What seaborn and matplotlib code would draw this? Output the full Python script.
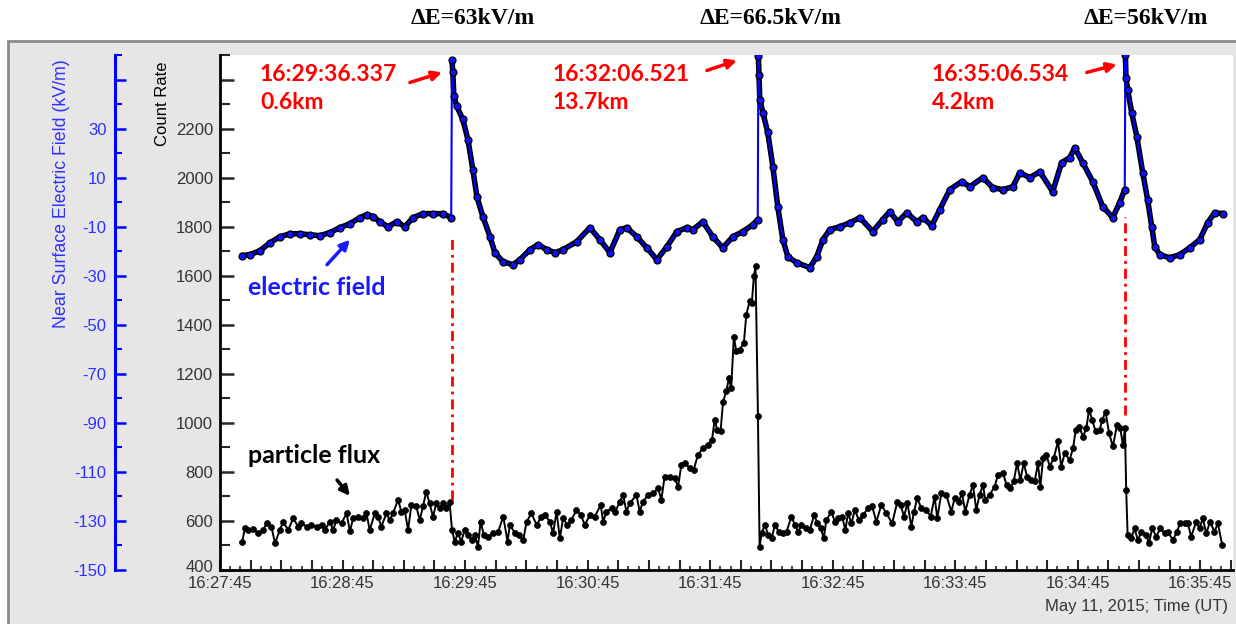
import numpy as np
import pandas as pd
import matplotlib
matplotlib.use("Agg")
import matplotlib.pyplot as plt
import matplotlib.transforms as mtransforms
import seaborn as sns
from matplotlib.patches import Rectangle

# ---------------- data (time = seconds after 16:27:45 UT) ----------------
x_tick_seconds = [0, 60, 120, 180, 240, 300, 360, 420, 480]
x_tick_labels = ["16:27:45", "16:28:45", "16:29:45", "16:30:45", "16:31:45",
                 "16:32:45", "16:33:45", "16:34:45", "16:35:45"]

count_ticks = [400, 600, 800, 1000, 1200, 1400, 1600, 1800, 2000, 2200, 2400]
count_tick_labels = ["400", "600", "800", "1000", "1200", "1400", "1600",
                     "1800", "2000", "2200", ""]
field_ticks = [-150, -130, -110, -90, -70, -50, -30, -10, 10, 30, 50]
field_tick_labels = ["-150", "-130", "-110", "-90", "-70", "-50", "-30",
                     "-10", "10", "30", ""]

# near surface electric field (kV/m)
ef_t = [10.6, 14.7, 19.6, 24.5, 29.4, 34.3, 39.2, 44.1, 48.9, 53.8, 58.7, 63.6,
        68.5, 72.0, 74.9, 78.3, 82.2, 86.6, 90.6, 94.5, 99.4, 104.3, 109.2, 113.2,
        113.6, 114.0, 114.5, 116.0, 118.9, 121.4, 123.8, 125.8, 128.7, 132.2, 134.6,
        138.5, 143.4, 146.8, 151.7, 155.7, 160.1, 164.0, 167.9, 174.7, 181.1, 186.0,
        190.9, 195.8, 199.2, 204.1, 209.0, 213.9, 218.8, 223.7, 228.6, 231.5, 236.4,
        241.3, 246.2, 251.1, 256.0, 260.9, 263.3,
        263.6, 263.9, 264.3, 265.8, 268.2, 270.7, 273.1, 275.6, 278.0, 282.4, 288.8,
        292.2, 295.2, 298.6, 303.5, 308.4, 313.3, 319.6, 324.5, 327.9, 331.9, 336.3,
        341.2, 344.1, 348.5, 352.4, 357.3, 363.2, 367.1, 373.5, 378.4, 383.3, 388.2,
        391.6, 396.5, 401.4, 407.7, 412.1, 416.1, 418.5, 422.4, 427.3, 432.2, 437.1,
        440.5, 443.0,
        443.3, 443.6, 444.4, 446.4, 448.9, 451.8, 454.2, 456.2, 457.7, 460.1, 465.0,
        469.9, 474.8, 479.7, 483.6, 487.0, 490.9]
ef_kv = [-21.8, -21.4, -19.8, -16.5, -14.1, -12.9, -12.9, -13.3, -13.7, -12.4, -10.4, -8.8,
         -6.3, -5.1, -5.9, -8.0, -10.0, -8.0, -10.0, -6.3, -4.7, -4.7, -4.7, -6.3,
         57.8, 52.9, 43.1, 39.0, 33.7, 25.5, 13.3, 2.2, -5.9, -14.1, -20.6,
         -24.3, -25.5, -23.5, -19.4, -17.3, -19.4, -20.6, -19.4, -16.1, -10.4, -15.3,
         -20.6, -11.2, -10.4, -14.1, -18.6, -23.5, -18.2, -12.0, -10.4, -11.2, -8.0,
         -14.1, -18.6, -14.1, -12.0, -9.2, -7.1,
         59.4, 52.0, 41.8, 36.5, 28.4, 14.5, -1.8, -15.3, -22.2, -24.7, -26.7,
         -22.2, -15.3, -11.2, -10.0, -8.4, -6.3, -12.0, -7.1, -3.9, -8.0, -4.3,
         -8.0, -6.3, -9.6, -3.1, 5.1, 8.4, 6.3, 10.0, 5.9, 5.1, 6.3,
         12.0, 10.0, 12.4, 4.3, 16.1, 18.2, 22.2, 16.1, 8.4, -1.8, -6.3,
         -0.2, 5.1,
         60.0, 50.8, 45.9, 36.5, 26.7, 12.0, 1.0, -10.0, -18.2, -21.4, -22.7,
         -21.4, -18.6, -15.3, -8.4, -4.3, -4.7]

# particle flux (count rate)
flux_t = [10.9, 12.2, 13.8, 16.3, 18.7, 21.2, 22.8, 25.2, 26.9, 29.3, 30.9, 33.4, 35.8,
          38.3, 39.9, 42.4, 44.8, 47.3, 49.7, 51.3, 53.8, 55.4, 57.0, 59.5, 62.0, 63.6,
          65.2, 67.6, 70.1, 71.7, 73.3, 75.8, 77.4, 79.0, 81.5, 83.1, 84.7, 87.2, 88.8,
          90.4, 92.1, 93.7, 96.1, 97.8, 99.4, 101.0, 102.6, 104.3, 105.9, 107.5, 109.1,
          110.8, 112.4, 113.6, 114.9, 116.5, 118.1, 119.8, 121.4, 123.4, 124.7, 126.3,
          127.6, 129.2, 131.2, 133.6,
          136.2, 138.7, 140.8, 141.9, 144.4, 146.3, 148.5, 150.1, 152.5, 155.0, 157.4,
          159.1, 161.5, 163.1, 164.8, 166.4, 168.0, 170.1, 172.1, 174.5, 176.7, 178.6,
          181.1, 183.5, 186.4, 187.6, 189.2, 191.7, 193.6, 195.7, 197.4, 199.0, 200.6,
          203.9, 205.5, 207.1, 209.6, 212.0, 214.5, 216.1, 217.7, 220.2, 222.6, 224.3,
          225.9, 227.8, 230.0, 231.9, 234.0, 236.5, 238.9, 240.9, 242.2, 243.5, 245.1,
          246.3, 247.9, 249.2, 250.3, 251.6, 252.8, 254.4, 256.5, 257.7, 259.3, 260.4,
          261.4, 262.2, 263.4, 264.2,
          265.2, 266.8, 268.4, 270.1, 271.7, 273.6, 275.8, 277.4, 279.8, 281.5, 283.1,
          284.7, 286.7, 288.8, 290.9, 292.5, 294.2, 295.6, 296.9, 299.4, 301.0, 302.7,
          304.6, 306.2, 307.5, 309.2, 310.8, 312.8, 314.9, 317.3, 319.3, 321.4, 323.8,
          326.3, 329.1, 331.7, 333.3, 334.9, 336.6, 338.5, 339.8, 341.4, 343.4, 345.8,
          348.0, 349.9, 351.2, 353.2, 355.6, 358.1, 359.7, 361.7, 363.3, 364.9, 367.0,
          368.7, 370.3, 371.9, 373.6, 374.7, 376.8, 379.3, 380.9,
          383.4, 385.1, 387.0, 388.6, 390.3, 391.9, 393.5, 395.2, 397.3, 398.9, 400.5,
          401.7, 403.0, 404.6, 406.3, 408.2, 410.3, 411.9, 413.6, 416.0, 417.7, 419.0,
          420.6, 422.6, 424.2, 425.5, 427.1, 428.7, 430.7, 432.0, 433.6, 435.3, 437.2,
          439.2, 440.8, 442.1, 443.1, 443.7, 444.4, 446.2, 447.8, 449.4, 451.1, 453.5,
          454.8, 456.5, 458.4, 460.4, 462.5, 464.1, 466.6, 468.5, 470.1, 472.3, 473.9,
          475.5, 478.0, 479.6, 481.2, 482.9, 484.8, 486.9, 488.6, 490.7]
flux_counts = [516, 570, 563, 566, 550, 563, 591, 577, 509, 563, 597, 563, 611,
               577, 591, 577, 584, 577, 584, 563, 597, 563, 604, 591, 631, 557,
               611, 618, 611, 631, 563, 631, 618, 577, 631, 604, 631, 686, 638,
               645, 563, 665, 659, 604, 659, 720, 672, 617, 672, 652, 672,
               652, 679, 563, 516, 550, 516, 563, 543, 522, 543, 495,
               597, 543, 536, 550,
               556, 618, 516, 584, 550, 543, 522, 597, 631, 584, 618,
               624, 597, 550, 638, 529, 611, 584, 604, 645, 624, 584,
               624, 618, 665, 597, 638, 652, 638, 679, 706, 638, 672,
               706, 638, 679, 706, 713, 733, 686, 781, 781, 774, 740,
               829, 835, 815, 808, 869, 897, 910, 931, 1012, 971, 965,
               1087, 1128, 1182, 1142, 1352, 1291, 1298, 1325, 1441, 1495, 1489,
               1597, 1638, 1026, 495,
               550, 584, 543, 529, 584, 556, 550, 556, 618, 584, 556,
               584, 570, 563, 624, 591, 570, 529, 604, 638, 597, 611,
               618, 563, 631, 591, 645, 604, 624, 652, 659, 597, 665,
               631, 591, 679, 665, 618, 672, 577, 638, 693, 652, 645,
               618, 699, 611, 713, 706, 638, 693, 679, 713, 638, 706,
               747, 645, 706, 747, 686, 706, 740, 788,
               795, 747, 733, 761, 835, 767, 835, 781, 767, 761, 835,
               740, 856, 870, 822, 856, 924, 822, 876, 849, 897, 972,
               985, 944, 978, 1053, 1012, 965, 972, 1012, 1046, 958, 904,
               992, 978, 910, 978, 727, 543, 529, 570, 522, 556, 543,
               509, 570, 536, 570, 550, 556, 522, 556, 590, 590, 590,
               536, 597, 570, 611, 550, 597, 556, 590, 502]

# lightning events marked with dash-dot lines (time, top / bottom in count units)
event_t = [113.6, 443.3]
event_top = [1759, 1841]
event_bottom = [686, 1033]

delta_labels = ["ΔE=63kV/m", "ΔE=66.5kV/m", "ΔE=56kV/m"]
lightning_times = ["16:29:36.337", "16:32:06.521", "16:35:06.534"]
lightning_dist = ["0.6km", "13.7km", "4.2km"]

# ---------------- styling ----------------
sns.set_theme(style="white")
plt.rcParams['font.family'] = ['Liberation Sans', 'DejaVu Sans']

W, H = 1236, 624
fig = plt.figure(figsize=(W / 100, H / 100), dpi=100)
fig.patch.set_facecolor('white')
fig.patches.append(Rectangle((8 / W, -0.01), 1.0, 1 - 41 / H + 0.01,
                             transform=fig.transFigure, facecolor='#e6e6e6',
                             edgecolor='#8a8a8a', lw=2, zorder=-5))

L, R, B, T = 220, 1233, 570, 55
ax = fig.add_axes([L / W, 1 - B / H, (R - L) / W, (B - T) / H])
ax.set_facecolor('white')

# particle flux
sns.lineplot(x=flux_t, y=flux_counts, ax=ax, color='black', lw=1.4,
             marker='o', markersize=4.3, markerfacecolor='black',
             markeredgecolor='black', markeredgewidth=0.5,
             estimator=None, sort=False)

ax.set_xlim(0, 496)
ax.set_ylim(400, 2500)

# dash-dot event lines
for t, top, bot in zip(event_t, event_top, event_bottom):
    ax.plot([t, t], [bot, top], color='red', lw=2, linestyle=(0, (3.6, 1.8, 1, 1.8)))

# axes styling (count rate)
for s in ['top', 'right']:
    ax.spines[s].set_visible(False)
for s in ['left', 'bottom']:
    ax.spines[s].set_color('black')
    ax.spines[s].set_linewidth(2)
majors = np.arange(0, 496, 15)
ax.set_xticks(majors)
ax.set_xticklabels([x_tick_labels[x_tick_seconds.index(s)] if s in x_tick_seconds else ''
                    for s in majors])
ax.set_xticks(np.arange(0, 496, 5), minor=True)
ax.set_yticks(count_ticks)
ax.set_yticklabels(count_tick_labels)
ax.set_yticks(np.arange(500, 2501, 200), minor=True)
ax.tick_params(axis='x', which='major', direction='in', length=7, width=1.5,
               labelsize=12, labelcolor='#333333', pad=4, bottom=True)
ax.tick_params(axis='x', which='minor', direction='in', length=3, width=1.2, bottom=True)
ax.tick_params(axis='y', which='major', direction='in', length=10, width=1.8,
               labelsize=12, labelcolor='#333333', pad=5, left=True)
ax.tick_params(axis='y', which='minor', direction='in', length=7, width=1.5, left=True)
ax.set_xlabel('')
ax.set_ylabel('')
# lift the lowest count label slightly so it clears the first time label
lab400 = ax.get_yticklabels()[0]
lab400.set_transform(lab400.get_transform() +
                     mtransforms.ScaledTranslation(0, 4 / 100, fig.dpi_scale_trans))

# electric field on its own axis
ax2 = ax.twinx()
df = pd.DataFrame({'t': ef_t, 'E': ef_kv})
df['seg'] = (df['E'].diff() > 30).cumsum()
for _, g in df.groupby('seg'):
    sns.lineplot(data=g, x='t', y='E', ax=ax2, color='black', lw=4.0,
                 estimator=None, sort=False)
sns.lineplot(data=df, x='t', y='E', ax=ax2, color='#0000ff', lw=1.5,
             marker='o', markersize=5, markerfacecolor='#1010ff',
             markeredgecolor='black', markeredgewidth=0.9,
             estimator=None, sort=False)
ax2.set_ylim(-150, 60)
ax2.set_xlim(0, 496)
ax2.set_ylabel('')
ax2.yaxis.tick_left()
ax2.yaxis.set_label_position('left')
for s in ['top', 'right', 'bottom']:
    ax2.spines[s].set_visible(False)
ax2.spines['left'].set_visible(True)
ax2.spines['left'].set_position(('axes', (115 - L) / (R - L)))
ax2.spines['left'].set_color('#0000ff')
ax2.spines['left'].set_linewidth(2.2)
ax2.set_yticks(field_ticks)
ax2.set_yticklabels(field_tick_labels)
ax2.set_yticks(np.arange(-140, 61, 20), minor=True)
ax2.tick_params(axis='y', which='major', direction='in', length=8, width=1.8,
                color='#0000ff', labelsize=12, labelcolor='#3030ff', pad=6,
                left=True, right=False)
ax2.tick_params(axis='y', which='minor', direction='in', length=5, width=1.5,
                color='#0000ff', left=True, right=False)

# axis titles
fig.text(163 / W, 1 - 104 / H, 'Count Rate', rotation=90, ha='center', va='center',
         fontsize=12, color='black')
fig.text(62 / W, 1 - 194 / H, 'Near Surface Electric Field (kV/m)', rotation=90,
         ha='center', va='center', fontsize=12.8, color='#3030ff')
fig.text(1228 / W, 1 - 607 / H, 'May 11, 2015; Time (UT)', ha='right', va='center',
         fontsize=12, color='#333333')

# Delta E titles
for xc, lab in zip([473, 771, 1146], delta_labels):
    fig.text(xc / W, 1 - 18 / H, lab, ha='center', va='center', fontsize=17,
             fontweight='bold', family=['Liberation Serif', 'DejaVu Serif'], color='black')

# lightning annotations
ann_font = dict(family=['Lato', 'DejaVu Sans'], fontweight='bold', fontsize=16.5)
for x0, tl, dl in zip([19.6, 163.0, 348.5], lightning_times, lightning_dist):
    ax.text(x0, 2420, tl, color='red', ha='left', va='center', **ann_font)
    ax.text(x0, 2306, dl, color='red', ha='left', va='center', **ann_font)

arrows = [((93.0, 2388), (108.7, 2429)),
          ((238.4, 2437), (253.1, 2478)),
          ((424.4, 2429), (439.1, 2461))]
for tail, head in arrows:
    ax.annotate('', xy=head, xytext=tail,
                arrowprops=dict(arrowstyle='-|>', color='red', lw=2.5, mutation_scale=14,
                                shrinkA=0, shrinkB=0))

lab_font = dict(family=['Lato', 'DejaVu Sans'], fontweight='bold', fontsize=18)
ax.text(13.7, 1551, 'electric field', color='#1a1aff', ha='left', va='center', **lab_font)
ax.annotate('', xy=(63.6, 1747), xytext=(52.4, 1645),
            arrowprops=dict(arrowstyle='-|>', color='#1a1aff', lw=2.5, mutation_scale=14,
                            shrinkA=0, shrinkB=0))
ax.text(13.7, 865, 'particle flux', color='black', ha='left', va='center', **lab_font)
ax.annotate('', xy=(63.6, 702), xytext=(57.3, 767),
            arrowprops=dict(arrowstyle='-|>', color='black', lw=2.5, mutation_scale=14,
                            shrinkA=0, shrinkB=0))

fig.savefig('out.png', dpi=100)
